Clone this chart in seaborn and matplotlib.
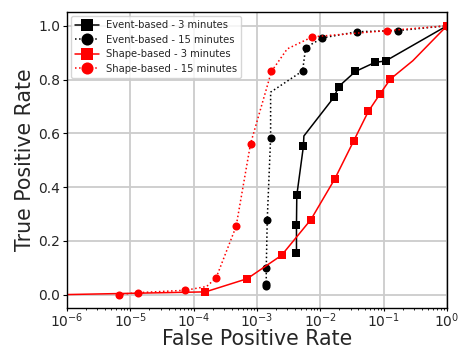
import matplotlib
matplotlib.use("Agg")
import matplotlib.pyplot as plt
import seaborn as sns
import numpy as np

# Event-based - 3 minutes (solid black, squares)
ev3_fpr = [4.2e-3, 4.2e-3, 4.25e-3, 5.4e-3, 5.5e-3, 0.0164, 0.0195, 0.0358, 0.0733, 0.107, 1.0]
ev3_tpr = [0.155, 0.259, 0.369, 0.551, 0.59, 0.734, 0.774, 0.83, 0.864, 0.869, 1.0]
ev3_mark = [True, True, True, True, False, True, True, True, True, True, False]

# Event-based - 15 minutes (dotted black, circles)
ev15_fpr = [1.40e-3, 1.40e-3, 1.40e-3, 1.45e-3, 1.64e-3, 1.64e-3, 5.25e-3, 5.86e-3, 0.0108, 0.0385, 0.166, 1.0]
ev15_tpr = [0.03, 0.04, 0.097, 0.277, 0.583, 0.753, 0.832, 0.919, 0.955, 0.978, 0.982, 1.0]
ev15_mark = [True, True, True, True, True, False, True, True, True, True, True, True]

# Shape-based - 3 minutes (solid red, squares)
sh3_fpr = [1e-6, 1.53e-4, 2.6e-4, 7.0e-4, 2.44e-3, 7.1e-3, 0.0169, 0.0337, 0.0575, 0.088, 0.128, 0.289, 1.0]
sh3_tpr = [0.0, 0.01, 0.027, 0.059, 0.146, 0.279, 0.43, 0.572, 0.682, 0.747, 0.802, 0.87, 1.0]
sh3_mark = [False, True, False, True, True, True, True, True, True, True, True, False, True]

# Shape-based - 15 minutes (dotted red, circles)
sh15_fpr = [6.5e-6, 1.31e-5, 7.4e-5, 1.6e-4, 2.26e-4, 4.68e-4, 7.9e-4, 1.69e-3, 3.0e-3, 7.5e-3, 0.1135, 1.0]
sh15_tpr = [0.0, 0.007, 0.016, 0.03, 0.062, 0.254, 0.561, 0.83, 0.914, 0.959, 0.982, 1.0]
sh15_mark = [True, True, True, False, True, True, True, True, False, True, True, True]

series = [
    ("Event-based - 3 minutes", ev3_fpr, ev3_tpr, ev3_mark, "black", "-", "s"),
    ("Event-based - 15 minutes", ev15_fpr, ev15_tpr, ev15_mark, "black", ":", "o"),
    ("Shape-based - 3 minutes", sh3_fpr, sh3_tpr, sh3_mark, "red", "-", "s"),
    ("Shape-based - 15 minutes", sh15_fpr, sh15_tpr, sh15_mark, "red", ":", "o"),
]

sns.set_style("ticks")
fig = plt.figure(figsize=(4.69, 3.47), dpi=100)
ax = fig.add_axes([0.143, 0.1124, 0.810, 0.852])

for label, x, y, mark, color, ls, mk in series:
    sns.lineplot(x=x, y=y, ax=ax, sort=False, estimator=None, color=color,
                 linestyle=ls, marker=mk, markevery=mark, markersize=5.8,
                 markeredgewidth=0, linewidth=1.1, label=label)

ax.set_xscale("log")
ax.set_xlim(1e-6, 1.0)
ax.set_ylim(-0.05, 1.05)
ax.set_yticks([0.0, 0.2, 0.4, 0.6, 0.8, 1.0])
ax.grid(True, which="major", color="#cccccc", linewidth=1.3)
ax.set_axisbelow(True)
for s in ax.spines.values():
    s.set_color("black")
    s.set_linewidth(1.0)
ax.tick_params(axis="y", which="major", labelsize=10, direction="out", length=3,
               color="black", pad=2)
ax.tick_params(axis="x", which="major", labelsize=10, direction="out", length=2,
               color="black", pad=0.5)
ax.tick_params(axis="x", which="minor", direction="out", length=1.5, color="black")
ax.set_xlabel("False Positive Rate", fontsize=14.8)
ax.xaxis.set_label_coords(0.5, -0.125)
ax.xaxis.label.set_va("baseline")
ax.set_ylabel("True Positive Rate", fontsize=14.8)
ax.yaxis.set_label_coords(-0.111, 0.5)
ax.yaxis.label.set_va("center")
leg = ax.legend(loc="upper left", fontsize=7.2, frameon=True, handlelength=2.4,
                borderpad=0.4, labelspacing=0.45, markerscale=1.5,
                borderaxespad=0.4, handletextpad=0.7)
leg.get_frame().set_edgecolor("#cccccc")

fig.savefig("out.png", dpi=100)
